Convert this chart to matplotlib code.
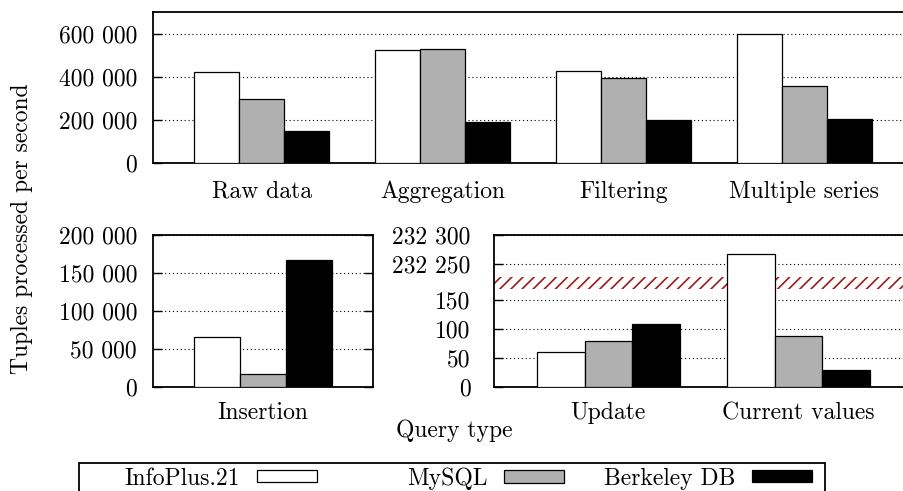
import numpy as np
import matplotlib
matplotlib.use("Agg")
import matplotlib.pyplot as plt
from matplotlib.patches import Rectangle

plt.rcParams["font.family"] = "serif"
plt.rcParams["font.serif"] = ["cmr10"]
plt.rcParams["mathtext.fontset"] = "cm"
plt.rcParams["axes.formatter.use_mathtext"] = True
plt.rcParams["font.size"] = 17
plt.rcParams["hatch.linewidth"] = 1.2

# ── Data ───────────────────────────────────────────────────────
series      = ["InfoPlus.21", "MySQL", "Berkeley DB"]
colors      = ["white", "#b0b0b0", "black"]

top_groups  = ["Raw data", "Aggregation", "Filtering", "Multiple series"]
top_info    = [421000, 523000, 430000, 601000]
top_mysql   = [297000, 532000, 395000, 358000]
top_bdb     = [150000, 191000, 199000, 205000]
top_ticks   = [0, 200000, 400000, 600000]
top_labels  = ["0", "200 000", "400 000", "600 000"]

ins_groups  = ["Insertion"]
ins_info    = [66000]
ins_mysql   = [18000]
ins_bdb     = [168000]
ins_ticks   = [0, 50000, 100000, 150000, 200000]
ins_labels  = ["0", "50 000", "100 000", "150 000", "200 000"]

upd_groups  = ["Update", "Current values"]
upd_info    = [61, 232268]
upd_mysql   = [79, 88]
upd_bdb     = [109, 29]
upd_ticks   = [0, 50, 100, 150, 232250, 232300]
upd_labels  = ["0", "50", "100", "150", "232 250", "232 300"]

# broken axis: values above BREAK_HI are shifted down by OFFSET
BREAK_LO, BREAK_HI, OFFSET = 200, 232238, 232038
BAND = (170, 190)


def fwd(v):
    v = np.asarray(v, dtype=float)
    return np.where(v > BREAK_HI, v - OFFSET, np.minimum(v, BREAK_LO))


def inv(y):
    y = np.asarray(y, dtype=float)
    return np.where(y > BREAK_LO, y + OFFSET, y)


W, H = 904, 491
fig = plt.figure(figsize=(W / 100, H / 100), dpi=100)


def px_axes(l, t, r, b):
    return fig.add_axes([l / W, 1 - b / H, (r - l) / W, (b - t) / H])


def draw(ax, groups, vals, ticks, labels, xlim, xpad, ypad):
    x = np.arange(len(groups))
    bars = []
    for i, (v, c) in enumerate(zip(vals, colors)):
        bars.append(ax.bar(x + (i - 1) * 0.25, v, 0.25, color=c,
                           edgecolor="black", lw=0.9, zorder=3))
    ax.set_xlim(*xlim)
    ax.set_xticks(x)
    ax.set_xticklabels(groups)
    ax.set_yticks(ticks)
    ax.set_yticklabels(labels)
    ax.tick_params(axis="x", length=0, pad=xpad)
    ax.tick_params(axis="y", direction="in", length=6.5, width=1.0,
                   right=True, pad=ypad)
    ax.yaxis.grid(True, color="black", lw=0.8, ls=(0, (1, 2.5)))
    ax.set_axisbelow(True)
    for s in ax.spines.values():
        s.set_linewidth(1.3)
    return bars


ax_top = px_axes(153, 12.3, 913, 163.3)
bars = draw(ax_top, top_groups, [top_info, top_mysql, top_bdb],
            top_ticks, top_labels, (-0.6, 3.6), 12.5, 11.5)
ax_top.set_ylim(0, 700000)

ax_ins = px_axes(153, 235.3, 373.3, 387.3)
draw(ax_ins, ins_groups, [ins_info, ins_mysql, ins_bdb],
     ins_ticks, ins_labels, (-0.6, 0.6), 10.5, 11.5)
ax_ins.set_ylim(0, 200000)

ax_upd = px_axes(494.3, 235.3, 912.3, 387.3)
ax_upd.set_yscale("function", functions=(fwd, inv))
draw(ax_upd, upd_groups, [upd_info, upd_mysql, upd_bdb],
     upd_ticks, upd_labels, (-0.6, 1.6), 10.5, 17)
ax_upd.set_ylim(0, 232300)
ax_upd.minorticks_off()
ax_upd.axhspan(*BAND, facecolor="white", edgecolor="#9b1c1c", hatch="///",
               lw=0, zorder=2)

fig.text(11 / W, 1 - 229 / H, "Tuples processed per second",
         rotation=90, ha="left", va="center")
fig.text(454 / W, 1 - 436.7 / H, "Query type", ha="center", va="baseline")

# legend frame, cut off by the bottom edge like the original
fig.add_artist(Rectangle((79 / W, -0.05), (825 - 79) / W,
                         0.05 + 1 - 462.7 / H, transform=fig.transFigure,
                         fill=False, lw=1.3, ec="black"))
for b, name, xr in zip(bars, series, [317, 564, 812]):
    fig.legend([b], [name], loc="center right",
               bbox_to_anchor=(xr / W, 1 - 478.5 / H),
               frameon=False, markerfirst=False, borderpad=0,
               borderaxespad=0, handlelength=2.55, handleheight=0.45,
               handletextpad=0.7)

fig.savefig("out.png", dpi=100)
